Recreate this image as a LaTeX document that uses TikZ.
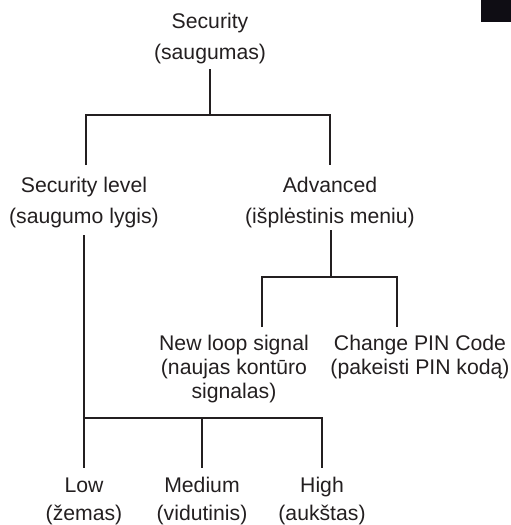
\documentclass[tikz,border=0pt]{standalone}
\usepackage{fontspec}
\setmainfont{Liberation Sans}
\definecolor{ink}{HTML}{231F20}
\definecolor{blk}{HTML}{0F0D14}
\newcommand{\stk}[1]{\begin{tabular}[t]{@{}c@{}}#1\end{tabular}}
\begin{document}
\begin{tikzpicture}[x=1pt,y=-1pt,
  lbl/.style={inner sep=0pt, anchor=base, text=ink},
  wide/.style={font=\fontsize{21.2}{31.5}\selectfont},
  mid/.style={font=\fontsize{21.2}{24}\selectfont},
  leaf/.style={font=\fontsize{21.2}{28.5}\selectfont},
  wire/.style={draw=ink, line width=2pt, line join=miter}]
\useasboundingbox (0,0) rectangle (511,525);
\fill[blk] (481,0) rectangle (511,22);
% labels
\node[lbl,wide] (root) at (210,28) {\stk{Security\\(saugumas)}};
\node[lbl,wide] (seclvl) at (84,192) {\stk{Security level\\(saugumo lygis)}};
\node[lbl,wide] (adv) at (330,192) {\stk{Advanced\\(išplėstinis meniu)}};
\node[lbl,mid] (nls) at (234,350) {\stk{New loop signal\\(naujas kontūro\\signalas)}};
\node[lbl,mid] (cpc) at (420,350) {\stk{Change PIN Code\\(pakeisti PIN kodą)}};
\node[lbl,leaf] (low) at (84,492) {\stk{Low\\(žemas)}};
\node[lbl,leaf] (med) at (202,492) {\stk{Medium\\(vidutinis)}};
\node[lbl,leaf] (high) at (322,492) {\stk{High\\(aukštas)}};
% junction coordinates
\coordinate (r0) at (210,69);
\coordinate (r1) at (210,115);
\coordinate (rl) at (86,115);
\coordinate (rr) at (330,115);
\coordinate (sl) at (86,165);
\coordinate (ar) at (330,165);
\coordinate (s0) at (84,235);
\coordinate (lj) at (84,418);
\coordinate (mj) at (202,418);
\coordinate (hj) at (322,418);
\coordinate (lowend) at (84,468);
\coordinate (medend) at (202,468);
\coordinate (highend) at (322,468);
\coordinate (a0) at (331,230);
\coordinate (a1) at (331,277);
\coordinate (al) at (262,277);
\coordinate (arr) at (397,277);
\coordinate (nlsend) at (262,327);
\coordinate (cpcend) at (397,327);
% connectors
\draw[wire] (r0) -- (r1);
\draw[wire] (sl) -- (rl) -- (rr) -- (ar);
\draw[wire] (s0) -- (lowend);
\draw[wire] (lj) -- (hj) -- (highend);
\draw[wire] (mj) -- (medend);
\draw[wire] (a0) -- (a1);
\draw[wire] (nlsend) -- (al) -- (arr) -- (cpcend);
\end{tikzpicture}
\end{document}
